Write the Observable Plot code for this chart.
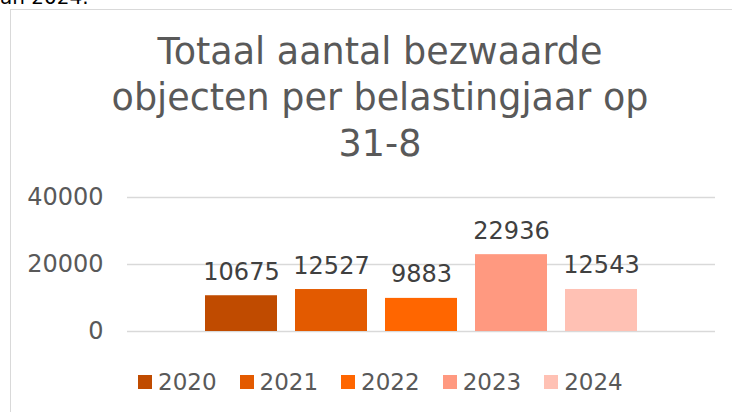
<!DOCTYPE html>
<html>
<head>
<meta charset="utf-8">
<script src="https://cdn.jsdelivr.net/npm/d3@7"></script>
<script src="https://cdn.jsdelivr.net/npm/@observablehq/plot@0.6"></script>
<style>
  html, body { margin: 0; padding: 0; background: #fff; }
  body { width: 732px; height: 412px; overflow: hidden; position: relative; font-family: "DejaVu Sans", Verdana, sans-serif; }
  #top { position: absolute; left: 0; top: -15px; font-size: 20px; line-height: 24px; color: #000; white-space: nowrap; }
  #frame { position: absolute; left: 10px; top: 9px; width: 760px; height: 420px; border: 1px solid #d9d9d9; box-sizing: border-box; }
  #title { position: absolute; left: 30px; width: 700px; top: 29px; text-align: center; font-size: 36.5px; line-height: 46px; color: #595959; white-space: nowrap; }
  #chart { position: absolute; left: 0; top: 180px; }
  #legend { position: absolute; left: 138px; top: 367px; height: 30px; display: flex; align-items: center; gap: 23px; font-size: 23px; color: #595959; }
  #legend .item { display: flex; align-items: center; gap: 6px; }
  #legend .sw { width: 14px; height: 14px; display: inline-block; }
</style>
</head>
<body>
<div id="top">an 2024.</div>
<div id="frame"></div>
<div id="title">Totaal aantal bezwaarde<br>objecten per belastingjaar op<br>31-8</div>
<div id="chart"></div>
<div id="legend"></div>
<script>
const years = ["2020", "2021", "2022", "2023", "2024"];
const values = [10675, 12527, 9883, 22936, 12543];
const colors = ["#c04b00", "#e35a00", "#ff6600", "#ff9980", "#ffc1b4"];
const yTicks = [0, 20000, 40000];

const data = years.map((y, i) => ({year: y, value: values[i]}));

const plot = Plot.plot({
  width: 732,
  height: 175,
  marginLeft: 127,
  marginRight: 17,
  marginTop: 17,
  marginBottom: 24,
  style: {fontFamily: "DejaVu Sans, Verdana, sans-serif", color: "#595959", background: "transparent"},
  x: {domain: years, range: [186, 656.5], padding: 0.2, axis: null},
  y: {domain: [0, 40000], axis: null},
  color: {domain: years, range: colors},
  marks: [
    Plot.ruleY(yTicks, {stroke: "#d9d9d9", strokeWidth: 1.5}),
    Plot.axisY(yTicks, {tickSize: 0, tickPadding: 24, fontSize: 24, fill: "#595959", label: null, tickFormat: d => String(d)}),
    Plot.barY(data, {x: "year", y: "value", fill: "year"}),
    Plot.text(data, {x: "year", y: "value", text: d => String(d.value), lineAnchor: "bottom", dy: -16, fontSize: 24, fill: "#404040"})
  ]
});
document.getElementById("chart").appendChild(plot);

const legend = document.getElementById("legend");
years.forEach((y, i) => {
  const item = document.createElement("div");
  item.className = "item";
  const sw = document.createElement("span");
  sw.className = "sw";
  sw.style.background = colors[i];
  const t = document.createElement("span");
  t.textContent = y;
  item.appendChild(sw);
  item.appendChild(t);
  legend.appendChild(item);
});
</script>
</body>
</html>
